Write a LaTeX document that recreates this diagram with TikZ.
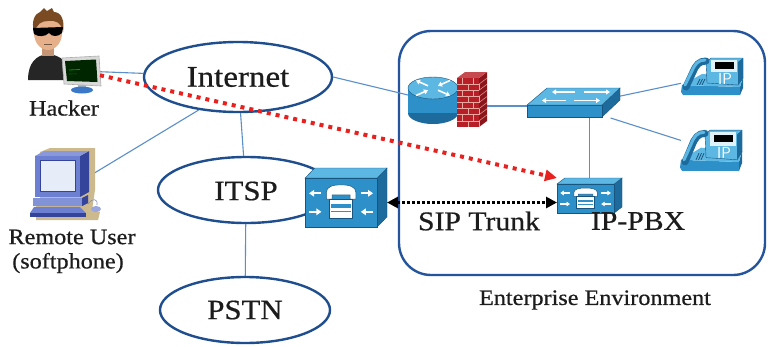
\documentclass[tikz,border=0pt]{standalone}
\usepackage{fontspec}
\setmainfont{Liberation Serif}[FakeStretch=1.1,FakeBold=0.6]
\usetikzlibrary{shapes.geometric,arrows.meta,calc}

\definecolor{ellblue}{HTML}{1F4E8F}
\definecolor{linkblue}{HTML}{5B8FC9}
\definecolor{boxblue}{HTML}{24559C}
\definecolor{ctop}{HTML}{5DB7E3}
\definecolor{cfront}{HTML}{2E90C8}
\definecolor{cside}{HTML}{1D6A9C}
\definecolor{cdark}{HTML}{17557E}
\definecolor{brick}{HTML}{B81E25}
\definecolor{mortar}{HTML}{E8A8A0}
\definecolor{attack}{HTML}{E8201E}
\definecolor{txt}{HTML}{1C1C1C}
\definecolor{skin}{HTML}{E6B08A}
\definecolor{hair}{HTML}{7A4A22}
\definecolor{standblue}{HTML}{3C78C8}
\definecolor{pcblue}{HTML}{6C7FD0}
\definecolor{pcdark}{HTML}{34449A}
\definecolor{pcscreen}{HTML}{E6ECF8}
\definecolor{shadowtan}{HTML}{CDB98E}

\newcommand\psz[1]{\fontsize{#1}{#1}\selectfont}

\tikzset{
  cloudnode/.style={ellipse, draw=ellblue, line width=2.4pt, fill=white,
    inner sep=0pt, text=txt},
  spot/.style 2 args={inner sep=0pt, outer sep=0pt, minimum width=#1, minimum height=#2},
  link/.style={draw=linkblue, line width=1.1pt},
  lbl/.style={text=txt, inner sep=1pt},
  trunk/.style={draw=black, line width=2.8pt, dash pattern=on 3pt off 2pt,
    {Triangle[length=11pt,width=11pt]}-{Triangle[length=11pt,width=11pt]}},
  attackline/.style={draw=attack, line width=4pt, dash pattern=on 4pt off 5pt,
    -{Triangle[length=12pt,width=11pt]}},
  gwarrow/.style={white, line width=2pt, -{Triangle[length=5pt,width=6.5pt]}},
  swarrow/.style={white, line width=1.6pt, -{Triangle[length=4pt,width=5pt]}},
  pics/ipphone/.style={code={
    % base of the phone
    \fill[cside] (60,30) -- (63,20) -- (63,31) -- (60,38) -- cycle;
    \fill[cfront] (2,28) -- (60,30) -- (60,38) -- (3,38) -- (1,35) -- cycle;
    \fill[ctop] (2,28) -- (22,17) -- (63,20) -- (60,30) -- cycle;
    % raised display panel
    \fill[ctop, draw=cdark, line width=0.4pt] (26,5) -- (31,1) -- (63,1) -- (63,21) -- (58,28) -- (27,26) -- cycle;
    \fill[cside] (58,5) -- (63,1) -- (63,21) -- (58,28) -- cycle;
    \fill[white!80!ctop] (31,3) -- (57,3) -- (57,15) -- (31,15) -- cycle;
    \fill[black] (35,5) -- (54,5) -- (54,12) -- (35,12) -- cycle;
    \node[text=white, font=\sffamily\psz{16}, inner sep=0pt] (-lbl) at (45,22) {IP};
    % keypad
    \foreach \k in {0,2.5,5} \draw[cdark, line width=0.8pt] (17+\k,28) -- (20+\k,22);
    % handset
    \draw[cside, line width=7pt, line cap=round] (6,30) -- (13,15) .. controls (16,8) and (19,4) .. (26,4);
    \draw[ctop, line width=3pt, line cap=round] (5,28) -- (12,14) .. controls (15,7) and (18,3) .. (25,3);
  }},
  pics/gateway/.style={code={
    % box faces
    \fill[cside, draw=cdark, line width=0.4pt] (88,12) -- (100,0) -- (100,58) -- (88,70) -- cycle;
    \fill[ctop, draw=cdark, line width=0.4pt] (0,12) -- (12,0) -- (100,0) -- (88,12) -- cycle;
    \fill[cfront, draw=cdark, line width=0.4pt] (0,12) rectangle (88,70);
    % telephone symbol
    \fill[white, draw=cdark, line width=0.5pt] (26,37) -- (26,29) .. controls (26,22) and (34,20) .. (44,20)
      .. controls (54,20) and (62,22) .. (62,29) -- (62,37) -- (55,37) -- (55,32) -- (33,32) -- (33,37) -- cycle;
    \fill[white, draw=cdark, line width=0.5pt] (30,37) rectangle (58,60);
    \fill[cfront] (32,43) rectangle (56,47);
    \draw[cfront, line width=0.8pt] (32,52) -- (56,52);
    % direction arrows
    \draw[gwarrow] (20,30) -- (5,30);
    \draw[gwarrow] (5,52) -- (20,52);
    \draw[gwarrow] (68,30) -- (83,30);
    \draw[gwarrow] (83,52) -- (68,52);
  }}
}

\begin{document}
\begin{tikzpicture}[x=1pt,y=-1pt]
\useasboundingbox (0,0) rectangle (770,346);
\fill[white] (0,0) rectangle (770,346);

% enterprise boundary
\node[draw=boxblue, line width=2.4pt, rounded corners=32pt, minimum width=366pt,
  minimum height=244pt, inner sep=0pt] (ent) at (582,153) {};
\node[lbl, font=\psz{22}] (entlbl) at (595,300) {Enterprise Environment};

% clouds
\node[cloudnode, minimum width=188pt, minimum height=70pt, font=\psz{30}] (internet) at (238,77) {Internet};
\node[cloudnode, minimum width=176pt, minimum height=66pt, font=\psz{28}] (itsp) at (246,190) {};
\node[lbl, font=\psz{28}] (itsplbl) at (246,191) {ITSP};
\node[cloudnode, minimum width=170pt, minimum height=66pt, font=\psz{28}] (pstn) at (245,310) {PSTN};

% device footprints
\node[spot={38}{28}] (hackerpc) at (81,71) {};
\node[spot={55}{46}] (remotepc) at (62,176) {};
\node[spot={50}{48}] (router) at (433,101) {};
\node[spot={30}{40}] (firewall) at (472,106) {};
\node[spot={93}{24}] (switch) at (573,106) {};
\node[spot={60}{34}] (phoneA) at (711,77) {};
\node[spot={60}{36}] (phoneB) at (711,150) {};
\node[spot={82}{59}] (itspgw) at (346,197.5) {};
\node[spot={65}{35}] (pbx) at (589.5,195.5) {};

% links
\draw[link] (hackerpc) -- (internet);
\draw[link] (remotepc.east) -- (internet.220);
\draw[link] (internet) -- (itsp);
\draw[link] (itsp) -- (pstn);
\draw[link] (internet.east) -- (router);
\draw[link] (firewall) -- (switch);
\draw[link] (switch) -- (phoneA);
\draw[link] (switch) -- (phoneB);
\draw[link] (pbx |- switch.south) -- (pbx.north);

% ---- hacker ----
\fill[black!85] (28,80) .. controls (28,63) and (36,55) .. (48,54) .. controls (60,55) and (70,62) .. (72,80) -- cycle;
\fill[skin!85!black] (42,45) rectangle (54,56);
\fill[skin] (48,33) ellipse (14 and 17);
\fill[hair] (34,33) .. controls (31,20) and (35,14) .. (40,12) -- (44,8) -- (47,11) -- (52,8) -- (54,12)
  .. controls (61,12) and (65,20) .. (63,32)
  .. controls (61,22) and (55,20) .. (48,21) .. controls (41,21) and (37,24) .. (34,33) -- cycle;
\fill[black] (33,28) -- (63,27) -- (62,33) .. controls (58,37) and (52,37) .. (49,33)
  .. controls (45,37) and (38,37) .. (34,34) -- cycle;
\draw[skin!50!black, line width=0.6pt] (44,44) -- (52,44);
\fill[gray!55] (78,84) rectangle (86,89);
\fill[standblue] (82,90) ellipse (11 and 3.5);
\fill[gray!30, draw=gray!65, line width=0.6pt] (62,58) -- (99,56) -- (101,86) -- (64,84) -- cycle;
\fill[black!85!green] (65,61) -- (96,59.5) -- (97.5,82) -- (67,81) -- cycle;
\draw[green!60!black, line width=0.8pt] (69,70) -- (80,69.5);
\draw[green!40!black, line width=0.6pt] (69,74) -- (77,73.8);
\node[lbl, font=\psz{22}] (hackerlbl) at (64,108) {Hacker};

% ---- remote user workstation ----
\fill[shadowtan] (40,152) -- (50,148) -- (95,148) -- (95,190) -- (92,210) -- (100,212) -- (98,220) -- (36,220) -- (36,200) -- (40,200) -- cycle;
\fill[pcdark] (80,156) -- (89,151) -- (89,192) -- (80,197) -- cycle;
\fill[pcblue!80!white] (35,156) -- (44,151) -- (89,151) -- (80,156) -- cycle;
\fill[pcblue] (35,156) rectangle (80,197);
\fill[pcscreen, draw=pcdark, line width=0.5pt] (40,160) rectangle (75,191);
\fill[pcblue!85!white] (33,198) -- (82,198) -- (88,195) -- (88,203) -- (82,206) -- (33,206) -- cycle;
\fill[pcdark] (82,198) -- (88,195) -- (88,203) -- (82,206) -- cycle;
\fill[pcblue] (34,207) -- (80,207) -- (86,213) -- (30,213) -- cycle;
\fill[pcdark] (30,213) rectangle (86,217);
\draw[pcdark!60, line width=0.6pt] (88,204) .. controls (92,198) and (98,198) .. (97,205);
\fill[pcblue!70] (96,209) ellipse (5 and 3);
\node[lbl, font=\psz{22}] (remotelbl) at (72,237) {Remote User};
\node[lbl, font=\psz{22}] (softlbl) at (68,263) {(softphone)};

% ---- router ----
\fill[cside] (433,113) ellipse (25 and 11);
\fill[cfront] (408,88) rectangle (458,113);
\fill[ctop, draw=cdark, line width=0.4pt] (433,88) ellipse (25 and 11);
\draw[swarrow] (450,80.5) -- (438,85.8);
\draw[swarrow] (416,95.5) -- (428,90.2);
\draw[swarrow] (428,85.8) -- (416,80.5);
\draw[swarrow] (438,90.2) -- (450,95.5);

% ---- firewall ----
\fill[brick!75!black] (479,78) -- (487,72) -- (487,121) -- (479,127) -- cycle;
\fill[brick!80!white] (457,78) -- (465,72) -- (487,72) -- (479,78) -- cycle;
\fill[brick] (457,78) rectangle (479,127);
\foreach \r in {1,...,7}{
  \draw[mortar, line width=0.7pt] (457,{78+6.125*\r}) -- (479,{78+6.125*\r});
  \draw[mortar!80!brick, line width=0.6pt] (479,{78+6.125*\r}) -- (487,{72+6.125*\r});
}
\foreach \r in {0,...,7}{
  \pgfmathsetmacro\off{mod(\r,2)*5.5}
  \foreach \k in {0,1}
    \draw[mortar, line width=0.7pt] ({462.5+\off+11*\k},{78+6.125*\r}) -- ++(0,6.125);
}

% ---- switch ----
\fill[cside, draw=cdark, line width=0.4pt] (602,105) -- (620,88) -- (620,100) -- (602,117) -- cycle;
\fill[cfront, draw=cdark, line width=0.4pt] (527,105) rectangle (602,117);
\fill[ctop, draw=cdark, line width=0.4pt] (527,105) -- (547,88) -- (620,88) -- (602,105) -- cycle;
\draw[swarrow] (575,92) -- (552,92);
\draw[swarrow] (584,92) -- (610,92);
\draw[swarrow] (566,100.5) -- (542,100.5);
\draw[swarrow] (574,100.5) -- (600,100.5);

% ---- IP phones ----
\pic (phA) at (680,57) {ipphone};
\pic[yscale=1.1] (phB) at (679,129) {ipphone};

% ---- voice gateways ----
\pic[xscale=0.82, yscale=0.843] (gwA) at (305,168) {gateway};
\pic[xscale=0.65, yscale=0.5,
  gwarrow/.style={white, line width=1.3pt, -{Triangle[length=3.5pt,width=4.5pt]}}] (gwB) at (557,178) {gateway};

% SIP trunk
\draw[trunk] ([yshift=-5pt]itspgw.east) -- ([yshift=-5pt]itspgw.east -| pbx.west);
\node[lbl, font=\psz{27}] (siplbl) at (479,221) {SIP Trunk};
\node[lbl, font=\psz{27}] (pbxlbl) at (638,221) {IP-PBX};

% attack path
\draw[attackline] (hackerpc) -- (pbx.north west);
\end{tikzpicture}
\end{document}
